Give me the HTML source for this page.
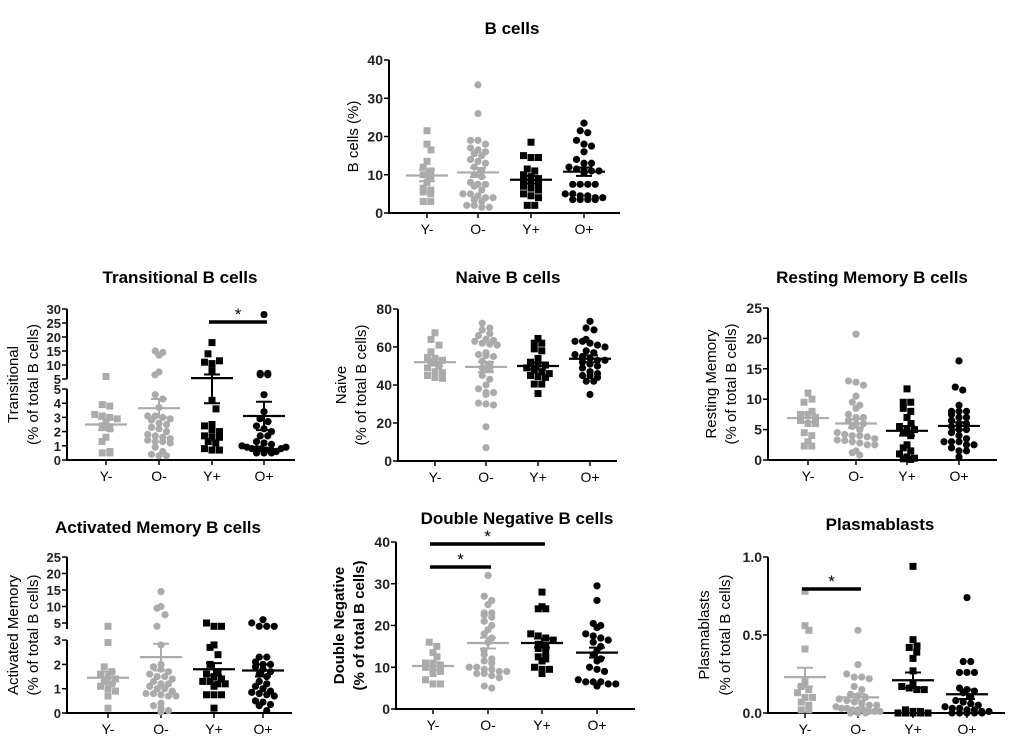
<!DOCTYPE html>
<html><head><meta charset="utf-8"><style>
html,body{margin:0;padding:0;background:#fff;}
svg{display:block;font-family:"Liberation Sans",Arial,sans-serif;}
</style></head><body>
<svg id="fig" width="1020" height="751" viewBox="0 0 1020 751"></svg>
<script>
const groups = ["Y-","O-","Y+","O+"];
// B cells (%)
const bcY_m = [21.5,18,16.5,13.5,12,11,10,9.5,8,6.5,6,5.5,5,3,3];
const bcO_m = [33.5,26,19,19,18,17,16.5,16,15.5,15,14,13.5,13,12,11,10,9.5,8,7.5,7.5,7,6,5,5,4.5,4,4,3.5,3,2,2,1.5,1.5];
const bcY_p = [18.5,15,14.5,14.5,11.5,11,10,9.5,9,8.5,8,7.5,7,6.5,6,5,4.5,4,2,2];
const bcO_p = [23.5,21.5,21,19,18,17.5,16,14,13,13,12,11.5,11.5,11,11,10.5,7.5,7.5,7.5,7.5,5,5,4.5,4.5,4,4,3.5,3.5,3.5,3.5];
const bcMeans = [9.8,10.6,8.7,10.8];
const bcSems = [1.5,1.2,1.0,1.1];
const bcTicks = [0,10,20,30,40];
// Transitional
const trY_m = [5.9,3.9,3.8,3.2,3.1,3.0,2.9,2.6,2.4,2.2,1.6,1.3,0.6,0.5,0.5];
const trO_m = [15,14.5,13.5,7.5,6.5,4.6,4.3,3.7,3.1,3.1,3.0,2.9,2.8,2.6,2.5,2.3,2.2,2.0,1.8,1.7,1.6,1.5,1.4,1.3,1.3,1.2,0.9,0.6,0.4,0.3,0.3];
const trY_p = [18,14,11,10.5,11.5,8,4.2,3.6,2.5,2.4,2.1,2.0,1.7,1.6,1.6,1.3,0.8,0.7,0.7,1.2];
const trO_p = [28,6.5,6.5,7,7,4.6,3.4,2.9,2.7,2.4,2.2,2.0,1.7,1.7,1.3,1.2,1.1,1.0,0.9,0.8,0.8,0.8,0.7,0.7,0.6,0.5,0.5,0.5,0.8,0.9];
const trMeans = [2.5,3.65,5.3,3.1];
const trSems = [0.4,0.65,1.3,1.0];
const trTicks = [0,1,2,3,4,5,5.0001,10,15,20,25,30];
// Naive
const nvY_m = [67.5,64,61,57.5,54.5,54,53,52,50,49,47,46.5,45,44,43.5];
const nvO_m = [72.5,70,69,67,66,64,63.5,63,62,61.5,61,57,56,55.5,55,52.5,51,49,48,45,43,40,38,36,36,35,30.5,30,29.5,18,7];
const nvY_p = [64.5,62,62,59,58,54,52,51,50.5,49,48,47,46,45,44.5,44,40.5,40.5,35.5];
const nvO_p = [73.5,70,69,64,63,63,62,61,60,58,57,56,55,54,53,53,52,51,50,49,47,46,45,45,44,42,42,35];
const nvMeans = [52,49.5,50,53.8];
const nvSems = [1.8,2.7,1.8,1.8];
const nvTicks = [0,20,40,60,80];
// Resting memory
const rmY_m = [11,10,9.5,8,7.5,7.5,7,6.5,6,6,4.5,4,3,2.3,2.3];
const rmO_m = [20.7,13,12.8,12.3,10.5,9.5,9,8.5,7.5,7,7,6.5,6,6,5.5,5,4.5,4.2,4,4,3.8,3.5,3.3,3.2,3,2.8,2.5,2.5,1.5,1.2,0.8];
const rmY_p = [11.7,9.5,9.5,8.5,8,7,6,5.5,5,5,4.5,4,2.5,2,1.5,1,0.5,0.3,0.2,0.1];
const rmO_p = [16.3,12,11.5,9,8,8,8,7.5,7,7,6.5,6,6,5.5,5,5,4.5,4,3.5,3,3,3,2.5,2.5,2,1.5,1.5,0.5];
const rmMeans = [6.9,6.0,4.8,5.6];
const rmSems = [0.7,0.7,0.8,0.6];
const rmTicks = [0,5,10,15,20,25];
// Activated memory
const amY_m = [4,2.9,1.9,1.7,1.6,1.5,1.4,1.3,1.2,1.1,1.0,0.9,0.7,0.2];
const amO_m = [14.5,10,9.5,7.5,4,2.8,2.0,1.9,1.8,1.7,1.6,1.5,1.5,1.4,1.3,1.2,1.2,1.1,1.0,1.0,0.9,0.8,0.8,0.75,0.7,0.7,0.4,0.3,0.2,0.1,0.05];
const amY_p = [5,4,4,2.8,2.7,2.4,2.0,1.7,1.6,1.5,1.4,1.3,1.3,1.2,1.2,1.1,0.75,0.75,0.75,0.2];
const amO_p = [6,5,4,4,4,2.3,2.3,2.1,2.0,2.0,1.9,1.8,1.7,1.6,1.5,1.3,1.2,1.1,1.0,0.9,0.85,0.8,0.75,0.7,0.5,0.45,0.35,0.3,0.1];
const amMeans = [1.45,2.3,1.8,1.75];
const amSems = [0.25,0.55,0.25,0.25];
const amTicks = [0,1,2,3,5,10,15,20,25];
// Double negative
const dnY_m = [16,15,13.5,12.5,11,11,10.5,10,9.5,9,8.5,7,6,6];
const dnO_m = [32,27,26,25,23,23,22.5,22,21,20,19,18,17,16,14,13,12,11.5,11,10,10,9.5,9.5,9,9,8.5,8.5,8,7.5,5.5,5];
const dnY_p = [28,24.5,24,24,18,17.5,17,16.5,15.5,15,14.5,13.5,12.5,12,11.5,10,9.5,9.5,8.5];
const dnO_p = [29.5,26,20.5,20,19.5,18,17.5,17,16.5,16,15,14,13,12,11.5,10,9.5,9,7,6.5,6.5,6.5,6,6,5.5];
const dnMeans = [10.3,15.8,15.8,13.5];
const dnSems = [0.9,1.3,1.1,1.2];
const dnTicks = [0,10,20,30,40];
// Plasmablasts
const pbY_m = [0.78,0.56,0.53,0.41,0.2,0.17,0.15,0.13,0.1,0.1,0.07,0.05,0.02,0.02];
const pbO_m = [0.53,0.31,0.25,0.23,0.23,0.22,0.17,0.15,0.12,0.11,0.1,0.09,0.08,0.07,0.06,0.05,0.05,0.04,0.03,0.03,0.02,0.02,0.02,0.01,0.01,0.01,0,0,0];
const pbY_p = [0.94,0.47,0.43,0.42,0.39,0.35,0.27,0.19,0.17,0.16,0.15,0.15,0.02,0.01,0.01,0,0,0,0,0];
const pbO_p = [0.74,0.33,0.33,0.26,0.26,0.26,0.16,0.15,0.14,0.13,0.1,0.08,0.07,0.06,0.05,0.04,0.03,0.03,0.02,0.02,0.01,0.01,0,0,0,0,0];
const pbMeans = [0.23,0.10,0.21,0.12];
const pbSems = [0.06,0.02,0.05,0.03];
const pbTicks = [0,0.5,1.0];
const pbTickLabels = ["0.0","0.5","1.0"];

const NS="http://www.w3.org/2000/svg";
const svg=document.getElementById('fig');
function mk(tag,attrs,parent){const e=document.createElementNS(NS,tag);for(const k in attrs)e.setAttribute(k,attrs[k]);(parent||svg).appendChild(e);return e;}
function lin(v0,y0,v1,y1){return v=>y0+(v-v0)*(y1-y0)/(v1-v0);}

const panels=[
 {id:'b-cells',title:'B cells',tx:512,ty:34,ax:389,xend:620,cats:[427,478,531,584],y0:213,ytop:60,
  scale:lin(0,213,40,60),data:[bcY_m,bcO_m,bcY_p,bcO_p],means:bcMeans,sems:bcSems,ticks:bcTicks,
  ylab:['B cells (%)'],ylx:[358],sig:[]},
 {id:'transitional',title:'Transitional B cells',tx:180,ty:283,ax:67,xend:295,cats:[106,159,212,264],y0:460,ytop:309,
  scale:v=>v<=5?460-v*14.2:379-(v-5)*2.8,brk:[389,379],data:[trY_m,trO_m,trY_p,trO_p],means:trMeans,sems:trSems,ticks:trTicks,
  ylab:['Transitional','(% of total  B cells)'],ylx:[18,38],sig:[{a:2,b:3,y:322}]},
 {id:'naive',title:'Naive B cells',tx:508,ty:283,ax:398,xend:617,cats:[435,486,538,590],y0:461,ytop:309,
  scale:lin(0,461,80,309),data:[nvY_m,nvO_m,nvY_p,nvO_p],means:nvMeans,sems:nvSems,ticks:nvTicks,
  ylab:['Naive','(% of total  B cells)'],ylx:[346,366],sig:[]},
 {id:'resting-memory',title:'Resting Memory B cells',tx:872,ty:283,ax:768,xend:997,cats:[808,856,907,959],y0:460,ytop:308,
  scale:lin(0,460,25,308),data:[rmY_m,rmO_m,rmY_p,rmO_p],means:rmMeans,sems:rmSems,ticks:rmTicks,
  ylab:['Resting Memory','(% of total  B cells)'],ylx:[716,736],sig:[]},
 {id:'activated-memory',title:'Activated Memory B cells',tx:158,ty:533,ax:67,xend:292,cats:[108,161,214,263],y0:713,ytop:557,
  scale:v=>v<=3?713-v*24.3:623-(v-5)*3.3,brk:[640,629],data:[amY_m,amO_m,amY_p,amO_p],means:amMeans,sems:amSems,ticks:amTicks,
  ylab:['Activated Memory','(% of total  B cells)'],ylx:[18,38],sig:[]},
 {id:'double-negative',title:'Double Negative B cells',tx:517,ty:524,ax:396,xend:635,cats:[433,488,542,597],y0:709,ytop:542,
  scale:lin(0,709,40,542),data:[dnY_m,dnO_m,dnY_p,dnO_p],means:dnMeans,sems:dnSems,ticks:dnTicks,bold:true,
  ylab:['Double Negative','(% of total B cells)'],ylx:[344,364],sig:[{a:0,b:2,y:544},{a:0,b:1,y:567}]},
 {id:'plasmablasts',title:'Plasmablasts',tx:880,ty:530,ax:768,xend:1005,cats:[805,858,913,967],y0:713,ytop:557,
  scale:lin(0,713,1,557),data:[pbY_m,pbO_m,pbY_p,pbO_p],means:pbMeans,sems:pbSems,ticks:pbTicks,tickLabels:pbTickLabels,
  ylab:['Plasmablasts','(% of total B cells)'],ylx:[709,730],sig:[{a:0,b:1,y:589}]}
];

function fmt(v){return String(Math.round(v*100)/100);}

panels.forEach(p=>{
  const g=mk('g',{});
  
  
  const t=mk('text',{x:p.tx,y:p.ty,'text-anchor':'middle','font-size':17,'font-weight':'bold',fill:'#000'},g);
  t.textContent=p.title;
  
  
  if(p.brk){
    const a1=mk('line',{x1:p.ax,y1:p.y0+1,x2:p.ax,y2:p.brk[0],stroke:'#000','stroke-width':2},g);
    
    
    const a2=mk('line',{x1:p.ax,y1:p.brk[1],x2:p.ax,y2:p.ytop,stroke:'#000','stroke-width':2},g);
    
    
  } else {
    const a=mk('line',{x1:p.ax,y1:p.y0+1,x2:p.ax,y2:p.ytop,stroke:'#000','stroke-width':2},g);
    
    
  }
  const xa=mk('line',{x1:p.ax-1,y1:p.y0,x2:p.xend,y2:p.y0,stroke:'#000','stroke-width':2},g);
  
  
  const tfs=p.brk?13:14;
  p.ticks.forEach((v,i)=>{
    const y=p.scale(v);
    mk('line',{x1:p.ax-5,y1:y,x2:p.ax,y2:y,stroke:'#000','stroke-width':1.5},g);
    const lab=p.tickLabels?p.tickLabels[i]:fmt(v);
    const tt=mk('text',{x:p.ax-6,y:y+5,'text-anchor':'end','font-size':tfs,'font-weight':'bold',fill:'#222'},g);
    tt.textContent=lab;
    
    
  });
  p.cats.forEach((cx,i)=>{
    mk('line',{x1:cx,y1:p.y0,x2:cx,y2:p.y0+5,stroke:'#000','stroke-width':1.5},g);
    const tt=mk('text',{x:cx,y:p.y0+21,'text-anchor':'middle','font-size':14,fill:'#000'},g);
    tt.textContent=groups[i];
    
    
  });
  const cy=(p.y0+p.ytop)/2;
  p.ylab.forEach((s,i)=>{
    const tt=mk('text',{x:p.ylx[i],y:cy,'text-anchor':'middle','font-size':15,'font-weight':p.bold?'bold':'normal',
      transform:'rotate(-90 '+p.ylx[i]+' '+cy+')',fill:'#000'},g);
    tt.textContent=s;
    
    
  });
  p.data.forEach((arr,gi)=>{
    const col=gi<2?'#ababab':'#000';
    const square=(gi%2===0);
    const rows={};
    arr.forEach(v=>{const y=p.scale(v);const k=Math.round(y/6.5);(rows[k]=rows[k]||[]).push(y);});
    Object.keys(rows).forEach(k=>{
      const ys=rows[k];const n=ys.length;
      const sp=Math.min(7.5,n>1?44/(n-1):7.5);
      const shift=(n===1 && rows[k-1] && rows[k-1].length===1)?4:0;
      ys.forEach((y,j)=>{
        const x=p.cats[gi]+(j-(n-1)/2)*sp+((k%2)?shift:-shift);
        let m;
        if(square) m=mk('rect',{x:x-3.5,y:y-3.5,width:7,height:7,fill:col},g);
        else m=mk('circle',{cx:x,cy:y,r:3.6,fill:col},g);
        
        
      });
    });
    const mY=p.scale(p.means[gi]), hi=p.scale(p.means[gi]+p.sems[gi]), lo=p.scale(p.means[gi]-p.sems[gi]);
    const cx=p.cats[gi];
    const ml=mk('line',{x1:cx-21,y1:mY,x2:cx+21,y2:mY,stroke:col,'stroke-width':2.2},g);
    
    
    const eb=mk('path',{d:`M${cx} ${hi}V${lo}M${cx-8} ${hi}H${cx+8}M${cx-8} ${lo}H${cx+8}`,stroke:col,'stroke-width':2,fill:'none'},g);
    
    
  });
  p.sig.forEach(s=>{
    const x1=p.cats[s.a]-3,x2=p.cats[s.b]+3;
    const b=mk('line',{x1:x1,y1:s.y,x2:x2,y2:s.y,stroke:'#000','stroke-width':3.5},g);
    
    
    const st=mk('text',{x:(x1+x2)/2,y:s.y-2,'text-anchor':'middle','font-size':17,fill:'#000'},g);
    st.textContent='*';
    
    
  });
});
</script>
</body></html>
